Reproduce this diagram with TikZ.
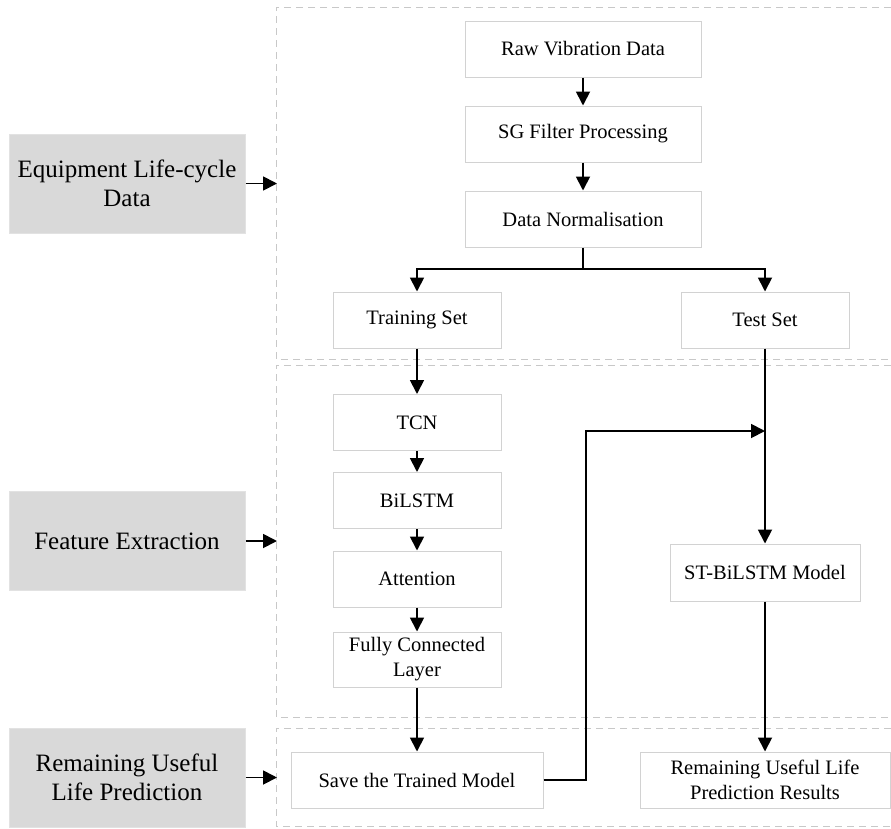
\documentclass[tikz,border=0pt]{standalone}
\usepackage{fontspec}
\setmainfont{Liberation Serif}
\usetikzlibrary{arrows.meta}
\definecolor{boxline}{HTML}{D2D2D2}
\definecolor{grayfill}{HTML}{D9D9D9}
\definecolor{grayline}{HTML}{E2E2E2}
\definecolor{dashcol}{HTML}{C8C8C8}
\tikzset{
  stepbox/.style={draw=boxline, line width=1pt, fill=white, minimum height=56pt, inner sep=0pt, align=center, font=\fontsize{20.5}{25}\selectfont},
  stagebox/.style={draw=grayline, line width=1pt, fill=grayfill, minimum width=236pt, minimum height=99pt, inner sep=0pt, align=center, font=\fontsize{25}{29}\selectfont},
  flow/.style={line width=1.8pt, -{Triangle[length=14pt,width=14pt]}},
  plainline/.style={line width=1.8pt},
  region/.style={draw=dashcol, line width=1pt, dash pattern=on 7pt off 5pt}
}
\begin{document}
\begin{tikzpicture}[x=1pt,y=-1pt]
\useasboundingbox (0,0) rectangle (891,828);
% dashed regions
\draw[region] (891,7) -- (276,7) -- (276,359) -- (891,359);
\draw[region] (891,365) -- (276,365) -- (276,717) -- (891,717);
\draw[region] (891,728) -- (276,728) -- (276,826) -- (891,826);
% stage boxes
\node[stagebox] (g1) at (127,183.5) {Equipment Life-cycle\\Data};
\node[stagebox] (g2) at (127,541) {Feature Extraction};
\node[stagebox] (g3) at (127,777.5) {Remaining Useful\\Life Prediction};
\coordinate (r1) at (277,183.5);
\coordinate (r2) at (277,541);
\coordinate (r3) at (277,777.5);
\draw[flow] (g1.east) -- (r1);
\draw[flow] (g2.east) -- (r2);
\draw[flow] (g3.east) -- (r3);
% step boxes
\node[stepbox, minimum width=236pt] (raw) at (583,49) {Raw Vibration Data};
\node[stepbox, minimum width=236pt] (sg) at (583,134) {SG Filter Processing};
\node[stepbox, minimum width=236pt] (dn) at (583,219) {Data Normalisation};
\node[stepbox, minimum width=168pt] (train) at (417,320) {Training Set};
\node[stepbox, minimum width=168pt] (test) at (765,320) {Test Set};
\node[stepbox, minimum width=168pt] (tcn) at (417,422.5) {TCN};
\node[stepbox, minimum width=168pt] (bil) at (417,500.5) {BiLSTM};
\node[stepbox, minimum width=168pt] (att) at (417,579) {Attention};
\node[stepbox, minimum width=168pt, minimum height=55pt] (fc) at (417,659.5) {Fully Connected\\Layer};
\node[stepbox, minimum width=252pt] (save) at (417,780) {Save the Trained Model};
\node[stepbox, minimum width=190pt, minimum height=57pt] (st) at (765,572.5) {ST-BiLSTM Model};
\node[stepbox, minimum width=250pt] (res) at (765,780) {Remaining Useful Life\\Prediction Results};
% connectors
\draw[flow] (raw) -- (sg);
\draw[flow] (sg) -- (dn);
\coordinate (sp) at (583,269);
\draw[plainline] (dn.south) -- (sp);
\draw[flow] (sp) -| (train.north);
\draw[flow] (sp) -| (test.north);
\draw[flow] (train) -- (tcn);
\draw[flow] (tcn) -- (bil);
\draw[flow] (bil) -- (att);
\draw[flow] (att) -- (fc);
\draw[flow] (fc) -- (save);
\draw[flow] (test) -- (st);
\draw[flow] (st) -- (res);
\coordinate (turn) at (586,431);
\coordinate (mg) at (765,431);
\draw[flow] (save.east) -| (turn) -- (mg);
\end{tikzpicture}
\end{document}
